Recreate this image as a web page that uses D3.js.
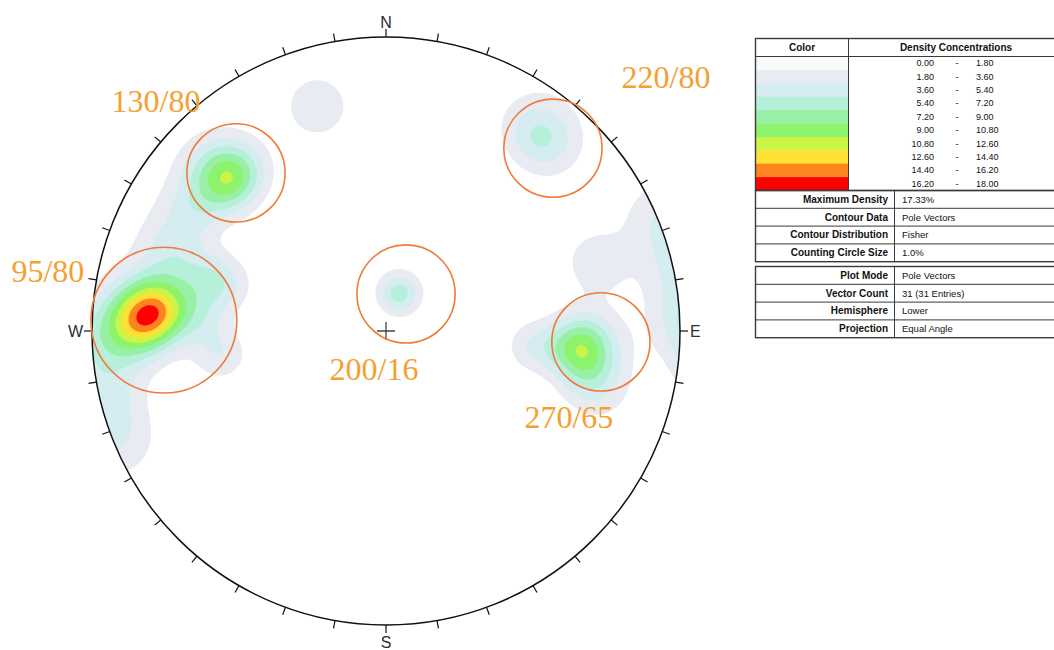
<!DOCTYPE html>
<html lang="en">
<head>
  <meta charset="UTF-8">
  <title>Pole density stereonet</title>
  <script src="https://d3js.org/d3.v7.min.js"></script>
  <style>
    body { margin: 0; background: #fff; }
    .dir-label { font-family: "Liberation Sans", Arial, sans-serif; font-size: 16px; fill: #2b2b36; }
    .set-label { font-family: "Liberation Serif", "Times New Roman", serif; font-size: 32px; fill: #f5a033; }
    .legend text { font-family: "Liberation Sans", Arial, sans-serif; font-size: 9px; fill: #111; }
    .legend .info { font-size: 9.5px; }
    .legend .bold { font-weight: bold; font-size: 10px; }
  </style>
</head>
<body>
  <svg id="chart" width="1054" height="650"></svg>

  <script>
    // pole vectors, trend / plunge in degrees (lower hemisphere)
    const poleTrend  = [268, 271, 272, 273, 275, 275, 278, 287, 274,
                        286, 248, 258, 72,
                        94, 91, 99, 96, 96, 105,
                        313, 318, 311, 315, 301, 290,
                        36, 41, 17, 22, 343, 262];
    const polePlunge = [1, 9, 10, 12, 14, 11, 16, 24, 25,
                        31, 1, 2, 16,
                        27, 21, 23, 20, 37, 17,
                        12, 17, 18, 17, 14, 13,
                        9, 10, 74, 75, 13, 31];

    // density contour levels (%) and their colours
    const levels = [0, 1.8, 3.6, 5.4, 7.2, 9.0, 10.8, 12.6, 14.4, 16.2, 18.0];
    const levelColors = ["#f8f9fb", "#e8ebf1", "#d5edf0", "#b6efda", "#98f0a6",
                         "#8df26c", "#ccf446", "#ffe136", "#ff8420", "#ff0000"];

    // hand-drawn set annotations: label, circle centre (trend/plunge), circle size (fraction of net radius)
    const setLabels  = ["130/80", "95/80", "220/80", "200/16", "270/65"];
    const setTrend   = [316.5, 272.8, 42.4, 28.4, 92.9];
    const setPlunge  = [16.9, 15.8, 9.8, 73.7, 17.6];
    const setSize    = [0.167, 0.248, 0.167, 0.167, 0.167];

    const statLabels = ["Maximum Density", "Contour Data", "Contour Distribution", "Counting Circle Size"];
    const statValues = ["17.33%", "Pole Vectors", "Fisher", "1.0%"];
    const plotLabels = ["Plot Mode", "Vector Count", "Hemisphere", "Projection"];
    const plotValues = ["Pole Vectors", "31 (31 Entries)", "Lower", "Equal Angle"];

    const cx = 386, cy = 331, R = 294;
    const K = 100;               // Fisher concentration
    const rad = Math.PI / 180;

    const svg = d3.select("#chart");

    // equal angle projection: tan(colatitude/2) -> radius
    const rScale = d3.scaleLinear().domain([0, 1]).range([0, R]);
    function project(trend, plunge) {
      const r = rScale(Math.tan((90 - plunge) * rad / 2));
      return [cx + r * Math.sin(trend * rad), cy - r * Math.cos(trend * rad)];
    }

    const poles = poleTrend.map((t, i) => {
      const p = polePlunge[i] * rad, a = t * rad;
      return [Math.cos(p) * Math.cos(a), Math.cos(p) * Math.sin(a), Math.sin(p)];
    });
    const N = poles.length;

    // density grid (% per 1% area, Fisher kernel, axial)
    const step = 2, pad = 6;
    const x0 = cx - R - pad, y0 = cy - R - pad;
    const nx = Math.ceil((2 * R + 2 * pad) / step) + 1, ny = nx;
    const values = new Array(nx * ny);
    for (let j = 0; j < ny; j++) {
      for (let i = 0; i < nx; i++) {
        const px = x0 + i * step, py = y0 + j * step;
        const u = rScale.invert(Math.hypot(px - cx, py - cy));
        const th = 2 * Math.atan(u);
        const az = Math.atan2(px - cx, cy - py);
        const v0 = Math.sin(th) * Math.cos(az), v1 = Math.sin(th) * Math.sin(az), v2 = Math.cos(th);
        let s = 0;
        for (const p of poles) {
          const c = v0 * p[0] + v1 * p[1] + v2 * p[2];
          s += Math.exp(K * (c - 1)) + Math.exp(K * (-c - 1));
        }
        values[j * nx + i] = K / N * s;
      }
    }

    const contours = d3.contours().size([nx, ny]).thresholds(levels.slice(1, -1))(values);
    const gridPath = d3.geoPath(d3.geoIdentity().scale(step).translate([x0 - step / 2, y0 - step / 2]));

    svg.append("clipPath").attr("id", "net-clip")
      .append("circle").attr("cx", cx).attr("cy", cy).attr("r", R);

    svg.append("g")
      .attr("clip-path", "url(#net-clip)")
      .selectAll("path")
      .data(contours)
      .join("path")
      .attr("d", gridPath)
      .attr("fill", (d, i) => levelColors[i + 1]);

    // primitive circle and ticks
    svg.append("circle")
      .attr("cx", cx).attr("cy", cy).attr("r", R)
      .attr("fill", "none").attr("stroke", "#111").attr("stroke-width", 1.5);

    svg.append("g")
      .selectAll("line")
      .data(d3.range(0, 360, 10))
      .join("line")
      .attr("x1", d => cx + R * Math.sin(d * rad))
      .attr("y1", d => cy - R * Math.cos(d * rad))
      .attr("x2", d => cx + (R + 8) * Math.sin(d * rad))
      .attr("y2", d => cy - (R + 8) * Math.cos(d * rad))
      .attr("stroke", "#111").attr("stroke-width", 1.2);

    svg.append("text").attr("class", "dir-label").attr("x", cx).attr("y", cy - R - 9)
      .attr("text-anchor", "middle").text("N");
    svg.append("text").attr("class", "dir-label").attr("x", cx).attr("y", cy + R + 23)
      .attr("text-anchor", "middle").text("S");
    svg.append("text").attr("class", "dir-label").attr("x", cx - R - 9).attr("y", cy + 6)
      .attr("text-anchor", "end").text("W");
    svg.append("text").attr("class", "dir-label").attr("x", cx + R + 10).attr("y", cy + 6)
      .attr("text-anchor", "start").text("E");

    // centre cross
    svg.append("path")
      .attr("d", `M${cx - 9},${cy}H${cx + 9}M${cx},${cy - 9}V${cy + 9}`)
      .attr("stroke", "#444").attr("stroke-width", 1.3);

    // set circles and labels
    const labelOffset = [[-80, -61], [-116, -38], [113, -60], [-32, 86], [-32, 86]];
    const sets = setLabels.map((label, i) => {
      const [x, y] = project(setTrend[i], setPlunge[i]);
      return { label, x, y, r: setSize[i] * R, off: labelOffset[i] };
    });

    svg.append("g").selectAll("circle")
      .data(sets)
      .join("circle")
      .attr("cx", d => d.x).attr("cy", d => d.y).attr("r", d => d.r)
      .attr("fill", "none").attr("stroke", "#f07a38").attr("stroke-width", 1.6);

    svg.append("g").selectAll("text")
      .data(sets)
      .join("text")
      .attr("class", "set-label")
      .attr("x", d => d.x + d.off[0]).attr("y", d => d.y + d.off[1])
      .attr("text-anchor", "middle")
      .text(d => d.label);

    // legend tables
    const lg = svg.append("g").attr("class", "legend");
    const lx = 755.5, lr = 1062, colDiv = 848.5, valDiv = 894.5;
    const headTop = 38.5, headBot = 56.5, bandH = 13.4;
    const fmt = d3.format(".2f");

    lg.selectAll("rect.band")
      .data(levelColors)
      .join("rect")
      .attr("class", "band")
      .attr("x", lx).attr("y", (d, i) => headBot + i * bandH)
      .attr("width", colDiv - lx).attr("height", bandH + 0.3)
      .attr("fill", d => d);

    const bandRows = levelColors.map((c, i) => ({ lo: fmt(levels[i]), hi: fmt(levels[i + 1]), y: headBot + i * bandH + bandH / 2 + 3 }));
    const rowsG = lg.append("g");
    rowsG.selectAll("text.lo").data(bandRows).join("text").attr("class", "lo")
      .attr("x", 934).attr("y", d => d.y).attr("text-anchor", "end").text(d => d.lo);
    rowsG.selectAll("text.dash").data(bandRows).join("text").attr("class", "dash")
      .attr("x", 957).attr("y", d => d.y).attr("text-anchor", "middle").text("-");
    rowsG.selectAll("text.hi").data(bandRows).join("text").attr("class", "hi")
      .attr("x", 976).attr("y", d => d.y).attr("text-anchor", "start").text(d => d.hi);

    const t1Bot = headBot + levelColors.length * bandH;
    lg.append("text").attr("class", "bold").attr("x", (lx + colDiv) / 2).attr("y", 51)
      .attr("text-anchor", "middle").text("Color");
    lg.append("text").attr("class", "bold").attr("x", 956).attr("y", 51)
      .attr("text-anchor", "middle").text("Density Concentrations");

    const stroke = "#3a3a3a";
    lg.append("rect").attr("x", lx).attr("y", headTop).attr("width", lr - lx).attr("height", t1Bot - headTop)
      .attr("fill", "none").attr("stroke", stroke).attr("stroke-width", 1.4);
    lg.append("line").attr("x1", lx).attr("x2", lr).attr("y1", headBot).attr("y2", headBot)
      .attr("stroke", stroke);
    lg.append("line").attr("x1", colDiv).attr("x2", colDiv).attr("y1", headTop).attr("y2", t1Bot)
      .attr("stroke", stroke);

    function infoTable(top, labels, vals) {
      const rowH = 17.8;
      const g = lg.append("g");
      labels.forEach((lab, i) => {
        const y = top + i * rowH;
        g.append("text").attr("class", "bold").attr("x", 888).attr("y", y + rowH / 2 + 3.4)
          .attr("text-anchor", "end").text(lab);
        g.append("text").attr("class", "info").attr("x", 902).attr("y", y + rowH / 2 + 3.4).text(vals[i]);
        if (i > 0) g.append("line").attr("x1", lx).attr("x2", lr).attr("y1", y).attr("y2", y).attr("stroke", stroke);
      });
      const bot = top + labels.length * rowH;
      g.append("rect").attr("x", lx).attr("y", top).attr("width", lr - lx).attr("height", bot - top)
        .attr("fill", "none").attr("stroke", stroke).attr("stroke-width", 1.4);
      g.append("line").attr("x1", valDiv).attr("x2", valDiv).attr("y1", top).attr("y2", bot).attr("stroke", stroke);
    }
    infoTable(t1Bot, statLabels, statValues);
    infoTable(266.5, plotLabels, plotValues);
  </script>
</body>
</html>
